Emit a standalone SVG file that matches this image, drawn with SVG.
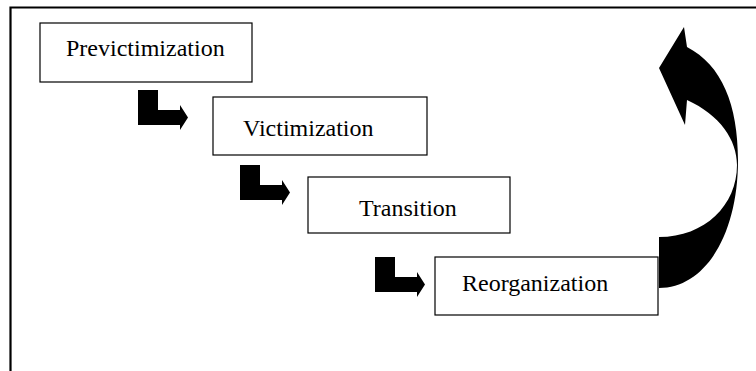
<svg xmlns="http://www.w3.org/2000/svg" width="756" height="371" viewBox="0 0 756 371">
<style>
.box{fill:#fff;stroke:#000;stroke-width:1.2}
.lbl{font-family:"Liberation Serif","Times New Roman",serif;font-size:24px;fill:#000}
.arr{fill:#000;stroke:none}
</style>
<defs>
<polygon id="bent" points="0,0 20,0 20,20 42,20 42,15 50,27.5 42,40 42,35 0,35"/>
</defs>
<rect width="756" height="371" fill="#fff"/>
<path d="M10.5,371 V7.5 H756" fill="none" stroke="#000" stroke-width="2.2"/>
<g id="connectors">
<use href="#bent" class="arr" x="138" y="90"/>
<use href="#bent" class="arr" x="240" y="165"/>
<use href="#bent" class="arr" x="375" y="257"/>
<path class="arr" d="M659,288 C705,288 738,235 738,160 C738,105 722,65 687,47 L684,27 L659,68 L685,125 L687,100 C720,115 737,140 737,165 C737,205 705,237 659,237 Z"/>
</g>
<g id="previctimization">
<rect class="box" x="40" y="23" width="212" height="59"/>
<text class="lbl" x="66" y="55.5">Previctimization</text>
</g>
<g id="victimization">
<rect class="box" x="213" y="97" width="214" height="58"/>
<text class="lbl" x="243" y="135.5">Victimization</text>
</g>
<g id="transition">
<rect class="box" x="308" y="177" width="202" height="56"/>
<text class="lbl" x="359" y="215.5">Transition</text>
</g>
<g id="reorganization">
<rect class="box" x="435" y="257" width="223" height="58"/>
<text class="lbl" x="462" y="290.5">Reorganization</text>
</g>
</svg>
